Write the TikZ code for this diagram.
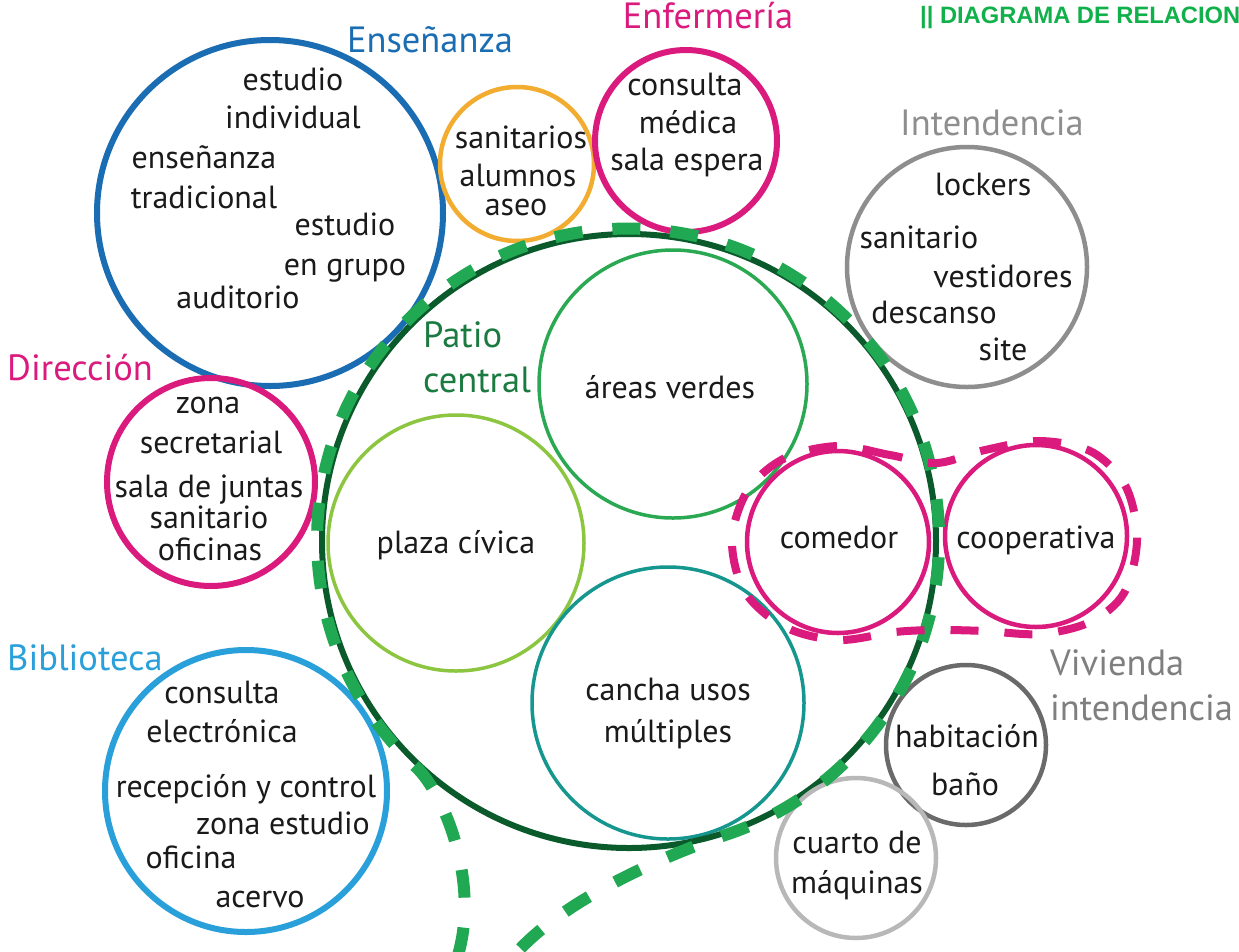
\documentclass[tikz,border=0pt]{standalone}
\usepackage{fontspec}
\setmainfont{PT Sans}
\newfontfamily\titlefont{Liberation Sans}
\definecolor{ensc}{HTML}{1B6DB3}
\definecolor{magc}{HTML}{DB1A7E}
\definecolor{intc}{HTML}{8E8E8E}
\definecolor{bibc}{HTML}{2AA0DB}
\definecolor{sanc}{HTML}{F2AC2F}
\definecolor{verc}{HTML}{2AA852}
\definecolor{plac}{HTML}{8CC540}
\definecolor{canc}{HTML}{15968E}
\definecolor{patc}{HTML}{0A5A2B}
\definecolor{patl}{HTML}{1A7A40}
\definecolor{gdc}{HTML}{20A852}
\definecolor{habc}{HTML}{6A6A6A}
\definecolor{cuac}{HTML}{B8B8B8}
\definecolor{vivc}{HTML}{7F7F7F}
\definecolor{titc}{HTML}{10B04A}
\definecolor{txtc}{HTML}{1A1A1A}
\begin{document}
\begin{tikzpicture}[x=1pt,y=1pt,
  ring/.style={circle, draw=#1, inner sep=0pt, outer sep=0pt},
  word/.style={anchor=base, inner sep=0pt, text=txtc, font=\fontsize{32}{36}\selectfont},
  wordl/.style={word, anchor=base west},
  heading/.style={anchor=base, inner sep=0pt, font=\fontsize{36.5}{40}\selectfont, text=#1},
  headingl/.style={heading=#1, anchor=base west},
  gdash/.style={draw=gdc, line width=12pt, dash pattern=on 28pt off 30pt},
  mdash/.style={draw=magc, line width=8pt, dash pattern=on 28pt off 26pt}
]
\useasboundingbox (0,0) rectangle (1239,-951);
\clip (0,0) rectangle (1239,-951);
\fill[white] (0,0) rectangle (1239,-951);

% inner circles
\node[ring=verc, line width=3.5pt, minimum size=268pt] (areas) at (673,-384) {};
\node[ring=plac, line width=3.5pt, minimum size=256pt] (plaza) at (456,-543) {};
\node[ring=canc, line width=3.5pt, minimum size=272pt] (cancha) at (668,-703) {};
% patio central
\node[ring=patc, line width=6pt, minimum size=614pt] (patio) at (629,-541) {};
% outer circles
\node[ring=ensc, line width=6pt, minimum size=346pt] (ens) at (270,-213) {};
\node[ring=sanc, line width=4.5pt, minimum size=154pt] (san) at (517,-164) {};
\node[ring=magc, line width=6pt, minimum size=182pt] (enf) at (686,-141) {};
\node[ring=intc, line width=4.5pt, minimum size=240pt] (int) at (967,-267) {};
\node[ring=magc, line width=6pt, minimum size=208pt] (dir) at (211,-482) {};
\node[ring=bibc, line width=6pt, minimum size=282pt] (bib) at (246,-791) {};
\node[ring=magc, line width=4.5pt, minimum size=182pt] (com) at (838,-542) {};
\node[ring=magc, line width=4.5pt, minimum size=182pt] (coop) at (1036,-536) {};
\node[ring=habc, line width=4.5pt, minimum size=160pt] (hab) at (966,-745) {};
\node[ring=cuac, line width=4.5pt, minimum size=160pt] (cua) at (856,-858) {};

% green dashed boundary
\coordinate (gstart) at (458,-955);
\coordinate (gend) at (512,-958);
\draw[gdash] (gstart) .. controls (480,-880) and (443,-792) .. (416,-767)
  arc[start angle=-133, end angle=-432, radius=311]
  .. controls (667,-855) and (560,-900) .. (gend);

% magenta dashed outline around comedor and cooperativa
\draw[mdash] plot[smooth cycle, tension=0.55] coordinates {
  (937,-463) (890,-455) (838,-446) (785,-458) (748,-490) (732,-540)
  (745,-592) (785,-627) (838,-640) (895,-632) (937,-630) (985,-631)
  (1040,-634) (1090,-622) (1124,-593) (1137,-540) (1126,-487)
  (1092,-452) (1040,-441) (985,-450)};

% title (cut off at the right edge, as in the reference)
\node[anchor=base west, inner sep=0pt, text=titc, font=\titlefont\bfseries\fontsize{23.7}{28}\selectfont] (title) at (920,-23) {|| DIAGRAMA DE RELACION};

% headings
\node[heading=ensc] (hens) at (430,-52) {Enseñanza};
\node[heading=magc] (henf) at (708,-28) {Enfermería};
\node[heading=intc] (hint) at (992,-135) {Intendencia};
\node[headingl=magc] (hdir) at (7,-380) {Dirección};
\node[headingl=bibc] (hbib) at (7,-670) {Biblioteca};
\node[headingl=patl] (hpat1) at (423,-347) {Patio};
\node[headingl=patl] (hpat2) at (423,-392) {central};
\node[headingl=vivc] (hviv1) at (1050,-675) {Vivienda};
\node[headingl=vivc] (hviv2) at (1050,-720) {intendencia};

% Enseñanza
\node[word] (e1) at (293,-90) {estudio};
\node[word] (e2) at (293,-128) {individual};
\node[word] (e3) at (204,-168) {enseñanza};
\node[word] (e4) at (204,-208) {tradicional};
\node[word] (e5) at (345,-235) {estudio};
\node[word] (e6) at (345,-275) {en grupo};
\node[word] (e7) at (238,-308) {auditorio};
% sanitarios
\node[word] (s1) at (521,-148) {sanitarios};
\node[word] (s2) at (518,-186) {alumnos};
\node[word] (s3) at (516,-215) {aseo};
% Enfermería
\node[word] (f1) at (685,-95) {consulta};
\node[word] (f2) at (688,-133) {médica};
\node[word] (f3) at (687,-170) {sala espera};
% Intendencia
\node[word] (i1) at (983,-195) {lockers};
\node[word] (i2) at (919,-248) {sanitario};
\node[word] (i3) at (1003,-287) {vestidores};
\node[word] (i4) at (934,-323) {descanso};
\node[word] (i5) at (1003,-360) {site};
% Dirección
\node[word] (d1) at (208,-413) {zona};
\node[word] (d2) at (211,-453) {secretarial};
\node[word] (d3) at (209,-497) {sala de juntas};
\node[word] (d4) at (209,-528) {sanitario};
\node[word] (d5) at (210,-560) {oficinas};
% Biblioteca
\node[word] (b1) at (222,-703) {consulta};
\node[word] (b2) at (222,-742) {electrónica};
\node[word] (b3) at (246,-797) {recepción y control};
\node[word] (b4) at (283,-834) {zona estudio};
\node[word] (b5) at (191,-868) {oficina};
\node[word] (b6) at (260,-907) {acervo};
% patio
\node[word] (a1) at (670,-398) {áreas verdes};
\node[word] (p1) at (456,-553) {plaza cívica};
\node[word] (c1) at (668,-700) {cancha usos};
\node[word] (c2) at (668,-742) {múltiples};
\node[word] (m1) at (839,-548) {comedor};
\node[word] (m2) at (1036,-548) {cooperativa};
% vivienda
\node[word] (v1) at (967,-747) {habitación};
\node[word] (v2) at (965,-795) {baño};
\node[word] (q1) at (857,-853) {cuarto de};
\node[word] (q2) at (857,-893) {máquinas};
\end{tikzpicture}
\end{document}
